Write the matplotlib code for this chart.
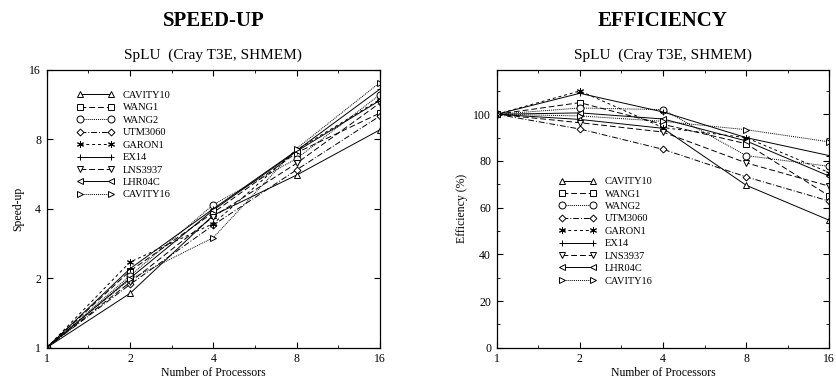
import matplotlib
matplotlib.use("Agg")
import matplotlib.pyplot as plt
import numpy as np
from matplotlib.ticker import FixedLocator, NullFormatter

plt.rcParams['font.family'] = ['Liberation Serif', 'DejaVu Serif']

procs = [1, 2, 4, 8, 16]
names = ["CAVITY10", "WANG1", "WANG2", "UTM3060", "GARON1",
         "EX14", "LNS3937", "LHR04C", "CAVITY16"]

# speed-up values
speedup = {
    "CAVITY10": [1, 1.72, 3.75, 5.6, 8.8],
    "WANG1":    [1, 2.15, 3.85, 7.0, 10.4],
    "WANG2":    [1, 2.05, 4.17, 6.6, 12.5],
    "UTM3060":  [1, 1.88, 3.4, 5.9, 10.1],
    "GARON1":   [1, 2.35, 3.45, 7.2, 11.9],
    "EX14":     [1, 2.2, 4.0, 7.15, 13.2],
    "LNS3937":  [1, 1.92, 3.7, 6.3, 11.5],
    "LHR04C":   [1, 2.0, 3.95, 7.1, 11.8],
    "CAVITY16": [1, 1.98, 3.0, 7.3, 14.1],
}

# efficiency (%)
efficiency = {
    "CAVITY10": [100, 97.8, 94.0, 69.6, 54.6],
    "WANG1":    [100, 105.0, 95.7, 87.4, 65.0],
    "WANG2":    [100, 102.7, 102.0, 82.3, 77.7],
    "UTM3060":  [100, 93.7, 85.0, 73.2, 62.8],
    "GARON1":   [100, 110.0, 94.3, 90.0, 75.0],
    "EX14":     [100, 109.0, 101.0, 90.0, 82.3],
    "LNS3937":  [100, 96.4, 92.4, 79.2, 69.2],
    "LHR04C":   [100, 100.6, 98.0, 88.6, 73.5],
    "CAVITY16": [100, 99.3, 97.0, 93.4, 88.2],
}

styles = {
    "CAVITY10": ('^', '-'),
    "WANG1":    ('s', (0, (6, 3))),
    "WANG2":    ('o', (0, (1, 1))),
    "UTM3060":  ('D', (0, (6, 2, 1, 2))),
    "GARON1":   ((6, 2, 0), (0, (3, 3))),
    "EX14":     ('+', '-'),
    "LNS3937":  ('v', (0, (6, 3))),
    "LHR04C":   ('<', '-'),
    "CAVITY16": ('>', (0, (1, 1))),
}

fig = plt.figure(figsize=(8.37, 3.81), dpi=100)
ax1 = fig.add_axes([0.0558, 0.0874, 0.398, 0.729])
ax2 = fig.add_axes([0.5934, 0.0874, 0.3974, 0.729])


def draw(ax, data):
    for n in names:
        m, ls = styles[n]
        ms = 3.5 if m == 'D' else 5
        ax.plot(procs, data[n], color='black', lw=0.7, linestyle=ls,
                marker=m, markersize=ms, markerfacecolor='white',
                markeredgewidth=0.7, label=n)
    ax.set_xscale('log', base=2)
    ax.set_xlim(1, 16)
    ax.set_xticks(procs)
    ax.set_xticklabels([str(p) for p in procs])
    ax.xaxis.set_minor_locator(FixedLocator([np.sqrt(2) * p for p in procs[:-1]]))
    ax.xaxis.set_minor_formatter(NullFormatter())
    ax.tick_params(which='both', direction='in', top=True, right=True,
                   labelsize=8.5, pad=4)
    ax.tick_params(which='major', length=4)
    ax.tick_params(which='minor', length=2.5)
    ax.set_xlabel("Number of Processors", fontsize=8.5, labelpad=1)
    for s in ax.spines.values():
        s.set_linewidth(0.9)


draw(ax1, speedup)
ax1.set_yscale('log', base=2)
ax1.set_ylim(1, 16)
ax1.set_yticks([1, 2, 4, 8, 16])
ax1.set_yticklabels(['1', '2', '4', '8', '16'])
ax1.yaxis.set_minor_formatter(NullFormatter())
ax1.yaxis.set_minor_locator(FixedLocator([]))
ax1.set_ylabel("Speed-up", fontsize=8.5)
ax1.set_title("SpLU  (Cray T3E, SHMEM)", fontsize=11, pad=8)
ax1.legend(loc='upper left', bbox_to_anchor=(0.09, 0.925), frameon=False,
           fontsize=7.5, numpoints=2, handlelength=3.6, labelspacing=0.3,
           handletextpad=0.8, borderpad=0, borderaxespad=0)

draw(ax2, efficiency)
ax2.set_ylim(0, 119)
ax2.set_yticks([0, 20, 40, 60, 80, 100])
ax2.yaxis.set_minor_locator(FixedLocator([10, 30, 50, 70, 90, 110]))
ax2.set_ylabel("Efficiency (%)", fontsize=8.5)
ax2.set_title("SpLU  (Cray T3E, SHMEM)", fontsize=11, pad=8)
ax2.legend(loc='upper left', bbox_to_anchor=(0.187, 0.615), frameon=False,
           fontsize=7.5, numpoints=2, handlelength=3.6, labelspacing=0.3,
           handletextpad=0.8, borderpad=0, borderaxespad=0)

fig.text(0.255, 0.945, "SPEED-UP", ha='center', va='center',
         fontsize=15, fontweight='bold')
fig.text(0.792, 0.945, "EFFICIENCY", ha='center', va='center',
         fontsize=15, fontweight='bold')

fig.savefig("out.png", dpi=100)
